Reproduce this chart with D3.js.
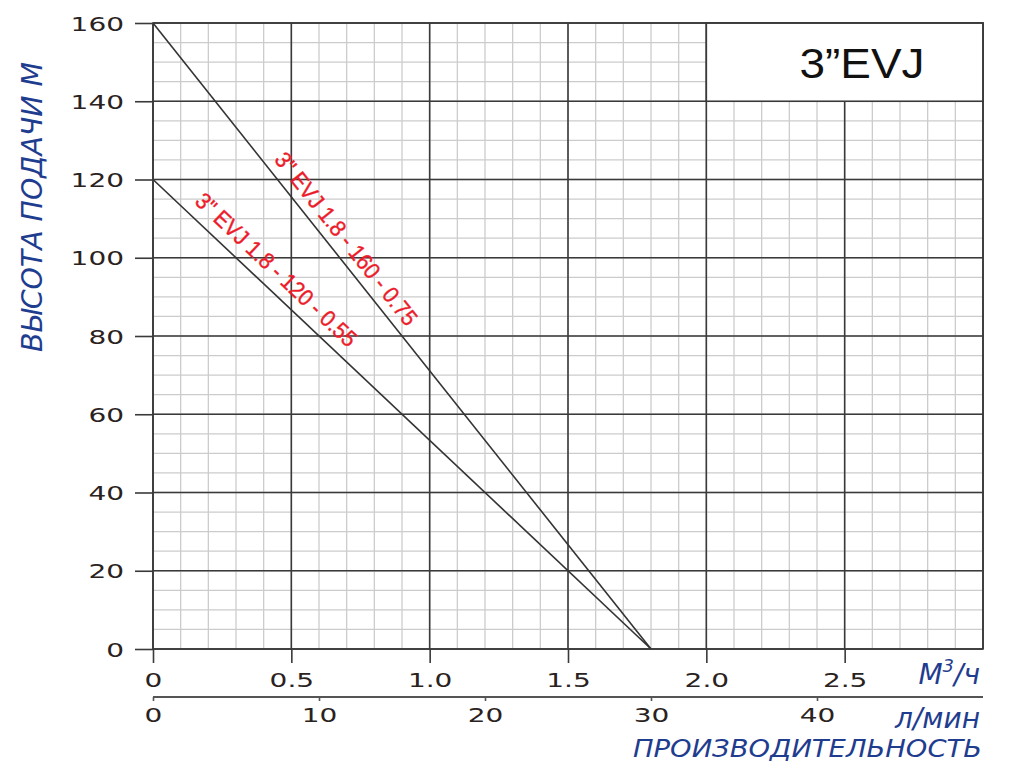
<!DOCTYPE html>
<html><head><meta charset="utf-8">
<script src="https://cdn.jsdelivr.net/npm/d3@7"></script>
<style>
html,body{margin:0;padding:0;background:#fff;}
svg{display:block;}
</style></head>
<body>
<svg id="chart" width="1024" height="776"></svg>
<script>
// ---- data ----
const flowM3h = [0, 1.8];                    // m³/h
const head160 = [160, 0];                    // 3"EVJ 1.8-160-0.75
const head120 = [120, 0];                    // 3"EVJ 1.8-120-0.55
const seriesNames = ['3" EVJ 1.8 - 160 - 0.75', '3" EVJ 1.8 - 120 - 0.55'];
const labelStartX = [0.41, 0.12];            // where each label starts (m³/h)
const xTicksM3h = [0, 0.5, 1.0, 1.5, 2.0, 2.5];
const xTicksLpm = [0, 10, 20, 30, 40];
const yTicks = [0, 20, 40, 60, 80, 100, 120, 140, 160];
const title = '3”EVJ';

const svg = d3.select('#chart');
const x = d3.scaleLinear().domain([0, 3]).range([153, 983]);
const xl = d3.scaleLinear().domain([0, 50]).range([153, 983]);
const y = d3.scaleLinear().domain([0, 160]).range([649, 23]);

// minor grid
const minorX = d3.range(0, 3.0001, 0.1).map(v => +v.toFixed(2));
const minorY = d3.range(0, 160.001, 5);
const grid = svg.append('g');
grid.selectAll('.mx').data(minorX).join('line')
  .attr('x1', d => x(d)).attr('x2', d => x(d)).attr('y1', y(0)).attr('y2', y(160))
  .attr('stroke', '#cccccc').attr('stroke-width', 1.3);
grid.selectAll('.my').data(minorY).join('line')
  .attr('y1', d => y(d)).attr('y2', d => y(d)).attr('x1', x(0)).attr('x2', x(3))
  .attr('stroke', '#cccccc').attr('stroke-width', 1.3);
// major grid
grid.selectAll('.Mx').data(d3.range(0, 3.0001, 0.5)).join('line')
  .attr('x1', d => x(d)).attr('x2', d => x(d)).attr('y1', y(0)).attr('y2', y(160))
  .attr('stroke', '#3a3a3a').attr('stroke-width', 1.6);
grid.selectAll('.My').data(yTicks).join('line')
  .attr('y1', d => y(d)).attr('y2', d => y(d)).attr('x1', x(0)).attr('x2', x(3))
  .attr('stroke', '#3a3a3a').attr('stroke-width', 1.6);

// title box
svg.append('rect').attr('x', x(2.0)).attr('y', y(160)).attr('width', x(3) - x(2.0)).attr('height', y(140) - y(160))
  .attr('fill', '#fff').attr('stroke', '#3a3a3a').attr('stroke-width', 1.6);
svg.append('text').attr('x', 862).attr('y', 78).attr('text-anchor', 'middle')
  .attr('font-family', 'Liberation Sans, Arial, sans-serif').attr('font-size', 42).attr('fill', '#111')
  .attr('textLength', 125).attr('lengthAdjust', 'spacingAndGlyphs').text(title);

// curves
const curves = [head160, head120];
const line = d3.line().x(d => x(d[0])).y(d => y(d[1]));
curves.forEach(h => {
  svg.append('path').datum(flowM3h.map((q, i) => [q, h[i]])).attr('d', line)
    .attr('fill', 'none').attr('stroke', '#333').attr('stroke-width', 1.6);
});

// curve labels
const labelLen = [214, 212];
const labelOff = [9, 11];
curves.forEach((h, i) => {
  const x0 = x(flowM3h[0]), y0 = y(h[0]), x1 = x(flowM3h[1]), y1 = y(h[1]);
  const ang = Math.atan2(y1 - y0, x1 - x0) * 180 / Math.PI;
  const q = labelStartX[i];
  const hq = h[0] + (h[1] - h[0]) * (q - flowM3h[0]) / (flowM3h[1] - flowM3h[0]);
  svg.append('text')
    .attr('transform', `translate(${x(q)},${y(hq)}) rotate(${ang})`)
    .attr('y', -labelOff[i])
    .attr('font-family', 'Liberation Sans Narrow, Arial Narrow, Liberation Sans, sans-serif')
    .attr('font-size', 23).attr('fill', '#ec1c2a').attr('stroke', '#ec1c2a').attr('stroke-width', 0.4)
    .attr('textLength', labelLen[i]).attr('lengthAdjust', 'spacingAndGlyphs')
    .text(seriesNames[i]);
});

// plot border
svg.append('rect').attr('x', x(0)).attr('y', y(160)).attr('width', x(3) - x(0)).attr('height', y(0) - y(160))
  .attr('fill', 'none').attr('stroke', '#3a3a3a').attr('stroke-width', 1.6);

const SX = 1.4;
const tickFont = 'DejaVu Sans, Verdana, sans-serif';
// y axis
const yAxis = svg.append('g').attr('transform', `translate(${x(0)},0)`)
  .call(d3.axisLeft(y).tickValues(yTicks).tickSize(18).tickSizeOuter(0).tickFormat(d3.format('d')));
yAxis.select('.domain').remove();
yAxis.selectAll('line').attr('stroke', '#3a3a3a').attr('stroke-width', 1.6);
yAxis.selectAll('text').attr('font-family', tickFont).attr('font-size', 20).attr('fill', '#2a2220')
  .attr('x', -29 / SX).attr('dy', '0.36em').attr('transform', `scale(${SX},1)`);

// x axis m3/h
const xAxis = svg.append('g').attr('transform', `translate(0,${y(0)})`)
  .call(d3.axisBottom(x).tickValues(xTicksM3h).tickSize(14).tickSizeOuter(0)
    .tickFormat(d => d === 0 ? '0' : d3.format('.1f')(d)));
xAxis.select('.domain').remove();
xAxis.selectAll('line').attr('stroke', '#3a3a3a').attr('stroke-width', 1.6);
xAxis.selectAll('text').attr('font-family', tickFont).attr('font-size', 20).attr('fill', '#2a2220')
  .attr('y', 38).attr('dy', 0).attr('x', 0).attr('transform', `scale(${SX},1)`);

// x axis l/min
const xAxis2 = svg.append('g').attr('transform', `translate(0,697)`)
  .call(d3.axisBottom(xl).tickValues(xTicksLpm).tickSize(4).tickSizeOuter(0).tickFormat(d3.format('d')));
xAxis2.select('.domain').attr('d', `M${x(0)},0H${x(3)}`).attr('stroke', '#555').attr('stroke-width', 2);
xAxis2.selectAll('line').attr('stroke', '#555').attr('stroke-width', 1.6);
xAxis2.selectAll('text').attr('font-family', tickFont).attr('font-size', 20).attr('fill', '#2a2220')
  .attr('y', 25).attr('dy', 0).attr('x', 0).attr('transform', `scale(${SX},1)`);

// blue titles
const blue = '#1f3d8f';
const tFont = 'DejaVu Sans, sans-serif';
svg.append('text').attr('transform', 'translate(42,352) rotate(-90)')
  .attr('font-family', tFont).attr('font-style', 'italic').attr('font-size', 29).attr('fill', blue)
  .attr('textLength', 290).attr('lengthAdjust', 'spacingAndGlyphs').text('ВЫСОТА ПОДАЧИ М');
const mt = svg.append('text').attr('x', 980).attr('y', 684).attr('text-anchor', 'end')
  .attr('font-family', tFont).attr('font-style', 'italic').attr('font-size', 28).attr('fill', blue);
mt.append('tspan').text('М');
mt.append('tspan').attr('font-size', 18).attr('dy', -12).text('3');
mt.append('tspan').attr('dy', 12).text('/ч');
svg.append('text').attr('x', 980).attr('y', 728).attr('text-anchor', 'end')
  .attr('font-family', tFont).attr('font-style', 'italic').attr('font-size', 28).attr('fill', blue)
  .text('л/мин');
svg.append('text').attr('x', 633).attr('y', 757)
  .attr('font-family', tFont).attr('font-style', 'italic').attr('font-size', 25).attr('fill', blue)
  .attr('textLength', 349).attr('lengthAdjust', 'spacingAndGlyphs').text('ПРОИЗВОДИТЕЛЬНОСТЬ');
</script>
</body></html>
